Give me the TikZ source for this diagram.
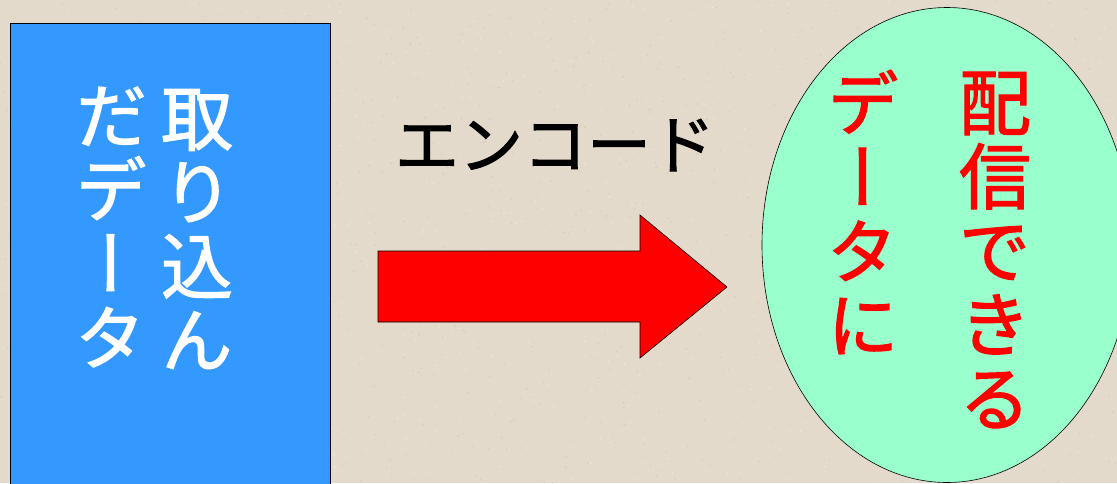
\documentclass[tikz,border=0pt]{standalone}
\usepackage{fontspec}
\newfontfamily\jp[FakeBold=1.6]{Noto Sans CJK JP}
\newfontfamily\jpv[RawFeature=+vert,FakeBold=1.6]{Noto Sans CJK JP}
\usetikzlibrary{shapes.geometric}
\definecolor{bg}{RGB}{227,218,204}
\definecolor{bgdark}{RGB}{200,188,170}
\definecolor{bglight}{RGB}{240,234,224}
\definecolor{boxblue}{RGB}{51,153,255}
\definecolor{mint}{RGB}{153,255,204}
\definecolor{arrowred}{RGB}{255,0,0}
\begin{document}
\begin{tikzpicture}[x=1pt,y=-1pt,
  vcol/.style={align=center, inner sep=0pt, font=\jpv\fontsize{72}{74}\selectfont},
  outline/.style={draw=black, line width=0.6pt}]
\clip (0,0) rectangle (1117,483);
\fill[bg] (0,0) rectangle (1117,483);
\pgfmathsetseed{7}
\foreach \i in {1,...,700}{
  \pgfmathsetmacro\xx{rnd*1117}
  \pgfmathsetmacro\yy{rnd*483}
  \fill[bgdark, opacity=0.45] (\xx,\yy) circle (0.9);
}
\foreach \i in {1,...,500}{
  \pgfmathsetmacro\xx{rnd*1117}
  \pgfmathsetmacro\yy{rnd*483}
  \fill[bglight, opacity=0.6] (\xx,\yy) circle (1.1);
}
% source box
\node[outline, fill=boxblue, rectangle, anchor=north west, minimum width=320pt, minimum height=500pt, inner sep=0pt] (src) at (10,22.5) {};
\node[vcol, text=white] (srcR) at (197,229) {取\\り\\込\\ん};
\node[vcol, text=white] (srcL) at (111,227) {だ\\デ\\ー\\タ};
% arrow
\draw[outline, fill=arrowred] (378,251) -- (640,251) -- (640,215) -- (727,287) -- (640,358) -- (640,322) -- (378,322) -- cycle;
\node[font=\jp\fontsize{64}{70}\selectfont, inner sep=0pt] (enc) at (555,145) {エンコード};
% target ellipse
\node[outline, fill=mint, ellipse, minimum width=370pt, minimum height=475pt, inner sep=0pt] (dst) at (947,245) {};
\node[vcol, text=arrowred] (dstR) at (995,250) {配\\信\\で\\き\\る};
\node[vcol, text=arrowred] (dstL) at (863,212) {デ\\ー\\タ\\に};
\end{tikzpicture}
\end{document}
